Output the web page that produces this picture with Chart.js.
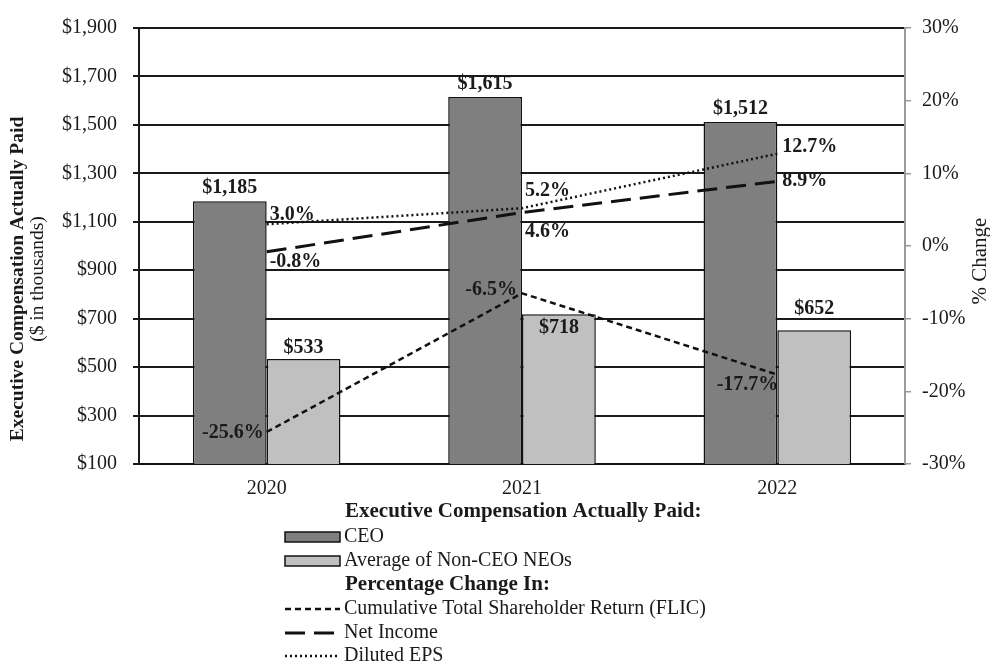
<!DOCTYPE html>
<html>
<head>
<meta charset="utf-8">
<script src="https://cdn.jsdelivr.net/npm/chart.js@4.4.1/dist/chart.umd.min.js"></script>
<style>
  html, body { margin: 0; padding: 0; background: #fff; }
  #wrap { width: 990px; height: 661px; }
</style>
</head>
<body>
<div id="wrap"><canvas id="chart" width="990" height="661"></canvas></div>
<script>
const years = ['2020', '2021', '2022'];
const ceoPay = [1185, 1615, 1512];
const neoPay = [533, 718, 652];
const tsrChange = [-25.6, -6.5, -17.7];
const netIncomeChange = [-0.8, 4.6, 8.9];
const epsChange = [3.0, 5.2, 12.7];
const payTicks = [100, 300, 500, 700, 900, 1100, 1300, 1500, 1700, 1900];
const pctTicks = [-30, -20, -10, 0, 10, 20, 30];

const SERIF = '"Liberation Serif", "Times New Roman", serif';
const INK = '#1a1a1a';

// where each label sits relative to its bar top / point: [align, dx, dy]
const labelSpots = {
    ceo: [['center', 0, -13], ['center', 0, -13], ['center', 0, -13]],
    neo: [['center', 0, -11], ['center', 0, 14], ['center', 0, -21]],
    tsr: [['right', -3, 1], ['right', -5, -3], ['right', 1, 10]],
    ni: [['left', 3, 10], ['left', 3, 19], ['left', 5, 0]],
    eps: [['left', 3, -9], ['left', 3, -17], ['left', 5, -7]]
};

const fmtMoney = v => '$' + v.toLocaleString('en-US');
const fmtPct = v => v.toFixed(1) + '%';

const labelPlugin = {
    id: 'valueLabels',
    afterDatasetsDraw(chart) {
        const ctx = chart.ctx;
        ctx.save();
        ctx.fillStyle = INK;
        ctx.font = 'bold 20px ' + SERIF;
        ctx.textBaseline = 'middle';
        chart.data.datasets.forEach((ds, i) => {
            const meta = chart.getDatasetMeta(i);
            meta.data.forEach((el, j) => {
                const v = ds.data[j];
                const spot = labelSpots[ds.key][j];
                const text = ds.type === 'bar' ? fmtMoney(v) : fmtPct(v);
                ctx.textAlign = spot[0];
                ctx.fillText(text, el.x + spot[1], el.y + spot[2]);
            });
        });
        ctx.restore();
    }
};

const decorPlugin = {
    id: 'decor',
    afterDraw(chart) {
        const ctx = chart.ctx;
        const ds = chart.data.datasets;
        ctx.save();
        ctx.fillStyle = INK;
        // left axis title
        ctx.save();
        ctx.translate(18, 279);
        ctx.rotate(-Math.PI / 2);
        ctx.textAlign = 'center';
        ctx.textBaseline = 'middle';
        ctx.font = 'bold 19.5px ' + SERIF;
        ctx.fillText('Executive Compensation Actually Paid', 0, 0);
        ctx.font = '19.5px ' + SERIF;
        ctx.fillText('($ in thousands)', 0, 20);
        ctx.restore();
        // right axis title
        ctx.save();
        ctx.translate(980, 261);
        ctx.rotate(-Math.PI / 2);
        ctx.textAlign = 'center';
        ctx.textBaseline = 'middle';
        ctx.font = '21px ' + SERIF;
        ctx.fillText('% Change', 0, 0);
        ctx.restore();

        // legend
        const x0 = 285, x1 = 340, tx = 344;
        ctx.textAlign = 'left';
        ctx.textBaseline = 'middle';
        const rows = [
            { y: 512, head: 'Executive Compensation Actually Paid:' },
            { y: 537, ds: ds[0] },
            { y: 561, ds: ds[1] },
            { y: 585, head: 'Percentage Change In:' },
            { y: 609, ds: ds[2] },
            { y: 633, ds: ds[3] },
            { y: 656, ds: ds[4] }
        ];
        rows.forEach(r => {
            if (r.head) {
                ctx.font = 'bold 21px ' + SERIF;
                ctx.fillStyle = INK;
                ctx.fillText(r.head, tx + 1, r.y);
                return;
            }
            const d = r.ds;
            if (d.type === 'bar') {
                ctx.fillStyle = d.backgroundColor;
                ctx.strokeStyle = '#111';
                ctx.lineWidth = 1.5;
                ctx.fillRect(x0, r.y - 5, x1 - x0, 10);
                ctx.strokeRect(x0, r.y - 5, x1 - x0, 10);
            } else {
                ctx.strokeStyle = d.borderColor;
                ctx.lineWidth = d.borderWidth;
                ctx.setLineDash(d.borderDash);
                ctx.beginPath();
                ctx.moveTo(x0, r.y);
                ctx.lineTo(x1, r.y);
                ctx.stroke();
                ctx.setLineDash([]);
            }
            ctx.font = '20px ' + SERIF;
            ctx.fillStyle = INK;
            ctx.fillText(d.label, tx, r.y);
        });
        ctx.restore();
    }
};

new Chart(document.getElementById('chart'), {
    data: {
        labels: years,
        datasets: [
            { type: 'bar', key: 'ceo', label: 'CEO', data: ceoPay, yAxisID: 'y',
              backgroundColor: '#7f7f7f', borderColor: '#111', borderWidth: 1.5, order: 2,
              barPercentage: 1, categoryPercentage: 0.578 },
            { type: 'bar', key: 'neo', label: 'Average of Non-CEO NEOs', data: neoPay, yAxisID: 'y',
              backgroundColor: '#c0c0c0', borderColor: '#111', borderWidth: 1.5, order: 2,
              barPercentage: 1, categoryPercentage: 0.578 },
            { type: 'line', key: 'tsr', label: 'Cumulative Total Shareholder Return (FLIC)', data: tsrChange,
              yAxisID: 'y1', borderColor: '#111', borderWidth: 2.5, borderDash: [6, 4],
              pointRadius: 0, fill: false, tension: 0, order: 1 },
            { type: 'line', key: 'ni', label: 'Net Income', data: netIncomeChange,
              yAxisID: 'y1', borderColor: '#111', borderWidth: 3, borderDash: [20, 9],
              pointRadius: 0, fill: false, tension: 0, order: 1 },
            { type: 'line', key: 'eps', label: 'Diluted EPS', data: epsChange,
              yAxisID: 'y1', borderColor: '#111', borderWidth: 2.5, borderDash: [2, 3],
              pointRadius: 0, fill: false, tension: 0, order: 1 }
        ]
    },
    options: {
        responsive: false,
        animation: false,
        layout: { padding: { top: 22, bottom: 157, left: 0, right: 0 } },
        plugins: { legend: { display: false }, tooltip: { enabled: false } },
        scales: {
            x: {
                type: 'category',
                grid: { display: false },
                border: { display: true, color: '#111', width: 2 },
                ticks: { color: INK, font: { family: SERIF, size: 20 }, padding: 5 },
                afterFit: s => { s.height = 40; }
            },
            y: {
                type: 'linear',
                position: 'left',
                min: 100, max: 1900,
                afterBuildTicks: s => { s.ticks = payTicks.map(v => ({ value: v })); },
                ticks: { color: INK, font: { family: SERIF, size: 20 }, padding: 16,
                         callback: v => fmtMoney(v) },
                grid: { color: '#1a1a1a', lineWidth: 2, tickLength: 6, tickColor: '#1a1a1a' },
                border: { display: true, color: '#1a1a1a', width: 2 },
                afterFit: s => { s.width = 139; }
            },
            y1: {
                type: 'linear',
                position: 'right',
                min: -30, max: 30,
                afterBuildTicks: s => { s.ticks = pctTicks.map(v => ({ value: v })); },
                ticks: { color: INK, font: { family: SERIF, size: 20 }, padding: 11,
                         callback: v => v + '%' },
                grid: { drawOnChartArea: false, tickLength: 6, tickColor: '#9a9a9a', lineWidth: 1.5 },
                border: { display: true, color: '#9a9a9a', width: 2 },
                afterFit: s => { s.width = 85; }
            }
        }
    },
    plugins: [labelPlugin, decorPlugin]
});
</script>
</body>
</html>
